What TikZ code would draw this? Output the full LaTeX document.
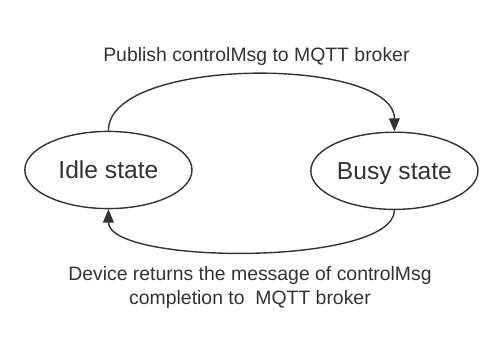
\documentclass[tikz,border=0pt]{standalone}
\usepackage{fontspec}
\setmainfont{Liberation Sans}
\usepackage{tikz}
\usetikzlibrary{arrows.meta,shapes.geometric}
\definecolor{ink}{HTML}{333333}

\begin{document}
\begin{tikzpicture}[x=1cm,y=1cm,every node/.style={font=\fontsize{13.8}{17}\selectfont,text=ink},
  statebox/.style={draw=ink,line width=1pt,ellipse,minimum width=4.18cm,minimum height=1.93cm,inner sep=0pt,text depth=0pt,font=\fontsize{17.5}{21}\selectfont},
  flow/.style={draw=ink,line width=1pt,-{Triangle[length=0.33cm,width=0.27cm]}}]
\useasboundingbox (0,0) rectangle (12.575,-8.45);
\node[statebox] (idle) at (2.71,-4.25) {Idle state};
\node[statebox] (busy) at (9.86,-4.27) {Busy state};
\node[anchor=base] (publish) at (6.41,-1.54) {Publish controlMsg to MQTT broker};
\node[anchor=base,align=center] (returns) at (6.25,-7.6) {Device returns the message of controlMsg\\completion to~ MQTT broker};
\draw[flow] (idle.north) to[out=90,in=90,looseness=0.67] (busy.north);
\draw[flow] (busy.south) to[out=-90,in=-90,looseness=0.5] (idle.south);
\end{tikzpicture}
\end{document}
